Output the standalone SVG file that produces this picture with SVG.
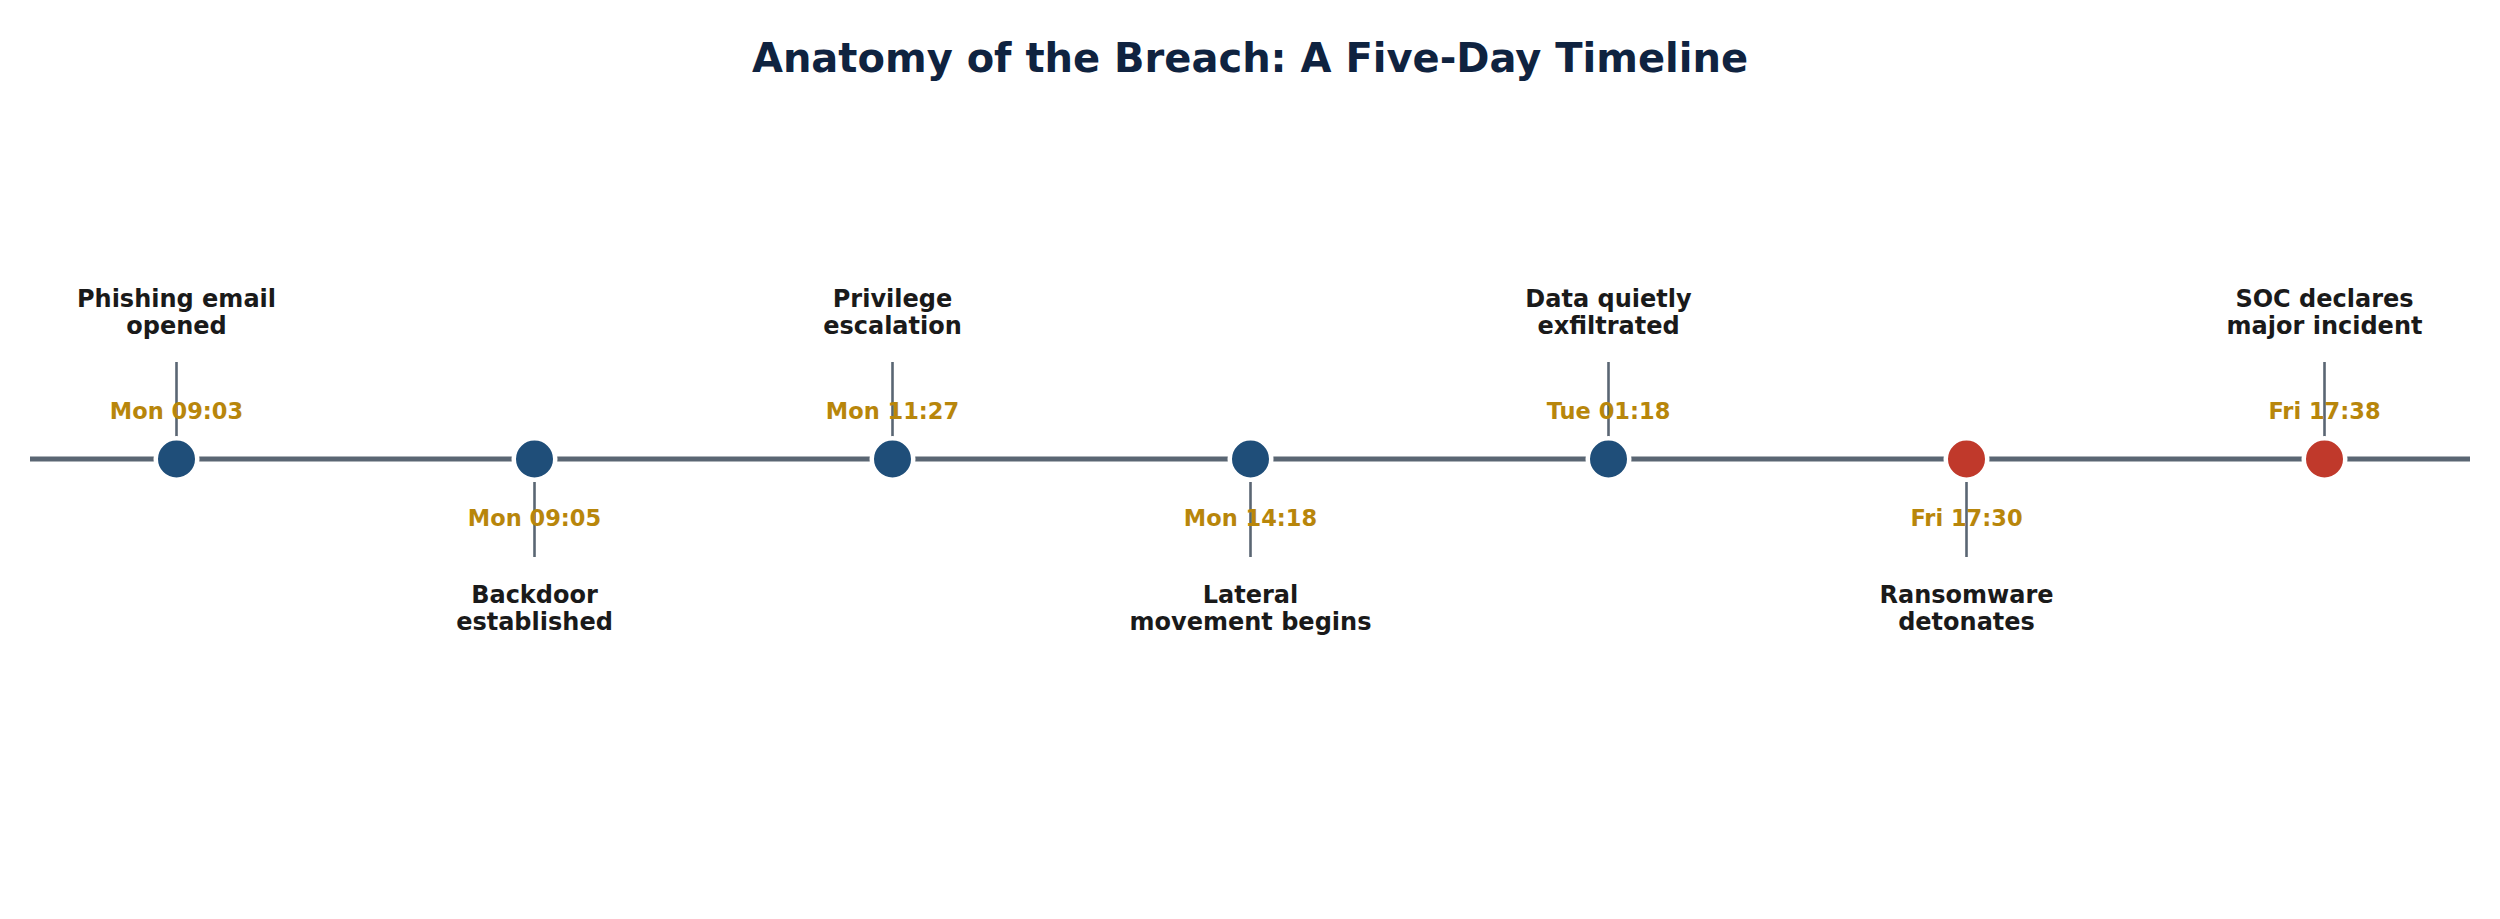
<svg xmlns="http://www.w3.org/2000/svg" width="2500" height="919" viewBox="0 0 2500 919">
<style>
.title{font-family:"DejaVu Sans","Liberation Sans",sans-serif;font-weight:bold;font-size:40px;fill:#0f2340;text-anchor:middle}
.lbl{font-family:"DejaVu Sans","Liberation Sans",sans-serif;font-weight:bold;font-size:24px;fill:#1a1a1a;text-anchor:middle}
.time{font-family:"DejaVu Sans","Liberation Sans",sans-serif;font-weight:bold;font-size:22.5px;fill:#b8860b;text-anchor:middle}
.stem{stroke:#5a6673;stroke-width:2.6}
.axis{stroke:#5a6673;stroke-width:5.2}
.dot{stroke:#ffffff;stroke-width:4.5}
.blue{fill:#1f4e79}
.red{fill:#c0392b}
</style>
<rect width="2500" height="919" fill="#ffffff"/>
<text class="title" x="1250" y="71.5">Anatomy of the Breach: A Five-Day Timeline</text>
<g id="connectors">
<line class="axis" x1="30" y1="459" x2="2470" y2="459"/>
<line class="stem" x1="176.5" y1="362" x2="176.5" y2="437"/>
<line class="stem" x1="534.5" y1="482" x2="534.5" y2="557"/>
<line class="stem" x1="892.5" y1="362" x2="892.5" y2="437"/>
<line class="stem" x1="1250.5" y1="482" x2="1250.5" y2="557"/>
<line class="stem" x1="1608.5" y1="362" x2="1608.5" y2="437"/>
<line class="stem" x1="1966.5" y1="482" x2="1966.5" y2="557"/>
<line class="stem" x1="2324.5" y1="362" x2="2324.5" y2="437"/>
</g>
<g id="n1">
<circle class="dot blue" cx="176.5" cy="459" r="20.75"/>
<text class="time" x="176.5" y="419">Mon 09:03</text>
<text class="lbl" x="176.5" y="306.5">Phishing email</text>
<text class="lbl" x="176.5" y="333.5">opened</text>
</g>
<g id="n2">
<circle class="dot blue" cx="534.5" cy="459" r="20.75"/>
<text class="time" x="534.5" y="526">Mon 09:05</text>
<text class="lbl" x="534.5" y="602.5">Backdoor</text>
<text class="lbl" x="534.5" y="629.5">established</text>
</g>
<g id="n3">
<circle class="dot blue" cx="892.5" cy="459" r="20.75"/>
<text class="time" x="892.5" y="419">Mon 11:27</text>
<text class="lbl" x="892.5" y="306.5">Privilege</text>
<text class="lbl" x="892.5" y="333.5">escalation</text>
</g>
<g id="n4">
<circle class="dot blue" cx="1250.5" cy="459" r="20.75"/>
<text class="time" x="1250.5" y="526">Mon 14:18</text>
<text class="lbl" x="1250.5" y="602.5">Lateral</text>
<text class="lbl" x="1250.5" y="629.5">movement begins</text>
</g>
<g id="n5">
<circle class="dot blue" cx="1608.5" cy="459" r="20.75"/>
<text class="time" x="1608.5" y="419">Tue 01:18</text>
<text class="lbl" x="1608.5" y="306.5">Data quietly</text>
<text class="lbl" x="1608.5" y="333.5">exfiltrated</text>
</g>
<g id="n6">
<circle class="dot red" cx="1966.5" cy="459" r="20.75"/>
<text class="time" x="1966.5" y="526">Fri 17:30</text>
<text class="lbl" x="1966.5" y="602.5">Ransomware</text>
<text class="lbl" x="1966.5" y="629.5">detonates</text>
</g>
<g id="n7">
<circle class="dot red" cx="2324.5" cy="459" r="20.75"/>
<text class="time" x="2324.5" y="419">Fri 17:38</text>
<text class="lbl" x="2324.5" y="306.5">SOC declares</text>
<text class="lbl" x="2324.5" y="333.5">major incident</text>
</g>
</svg>
